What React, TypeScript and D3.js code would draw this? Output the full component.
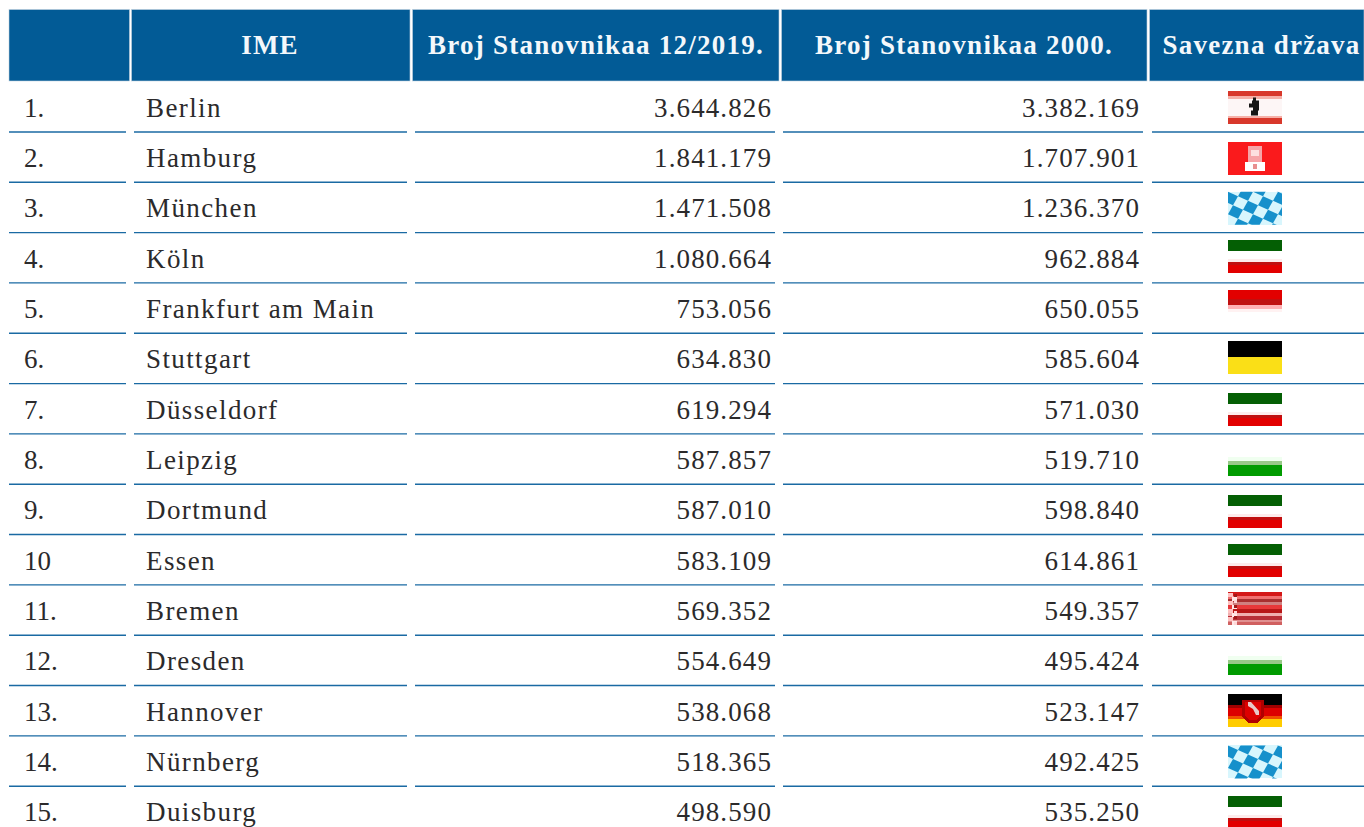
import * as React from "react"
import * as d3 from "d3"

const ranks = ["1.", "2.", "3.", "4.", "5.", "6.", "7.", "8.", "9.", "10", "11.", "12.", "13.", "14.", "15."]
const cities = ["Berlin", "Hamburg", "München", "Köln", "Frankfurt am Main", "Stuttgart", "Düsseldorf", "Leipzig", "Dortmund", "Essen", "Bremen", "Dresden", "Hannover", "Nürnberg", "Duisburg"]
const pop2019 = [3644826, 1841179, 1471508, 1080664, 753056, 634830, 619294, 587857, 587010, 583109, 569352, 554649, 538068, 518365, 498590]
const pop2000 = [3382169, 1707901, 1236370, 962884, 650055, 585604, 571030, 519710, 598840, 614861, 549357, 495424, 523147, 492425, 535250]
const states = ["berlin", "hamburg", "bayern", "nrw", "hessen", "bw", "nrw", "sachsen", "nrw", "nrw", "bremen", "sachsen", "niedersachsen", "bayern", "nrw"]
const headers = ["", "IME", "Broj Stanovnikaa 12/2019.", "Broj Stanovnikaa 2000.", "Savezna država"]

const width = 1364
const height = 827
const headerTop = 10
const headerBottom = 81
const rowHeight = 50.33
const blue = "#025b96"
const ruleBlue = "#1a6aa3"
const textColor = "#2b2a2b"
const font = "'Liberation Serif', serif"

const columns = [
  { left: 9, right: 129.5, ruleLeft: 9, ruleRight: 126, headerX: 69 },
  { left: 131.5, right: 410, ruleLeft: 134, ruleRight: 407, headerX: 270 },
  { left: 412.5, right: 779, ruleLeft: 415, ruleRight: 775, headerX: 596 },
  { left: 781.5, right: 1147, ruleLeft: 783, ruleRight: 1143, headerX: 964 },
  { left: 1149.5, right: 1364, ruleLeft: 1152, ruleRight: 1364, headerX: 1261.5 },
]

// flags sit slightly unevenly in the rows
const flagNudge = [9, 10, 9.5, 7.5, 7, 8, 9.5, 9.5, 10.5, 9.5, 7.5, 7, 8.5, 9.5, 9.5]
const flagW = 54
const flagH = 33

const bands: Record<string, [string, number][]> = {
  berlin: [["#d8382b", 5], ["#f6b0a8", 3], ["#fdf6f6", 17], ["#f6b0a8", 2], ["#d8382b", 6]],
  hamburg: [["#fa1a1c", 33]],
  nrw: [["#045f04", 11], ["#ffffff", 8], ["#fdecec", 3], ["#c01010", 3], ["#e20000", 8]],
  hessen: [["#e20000", 9], ["#c01010", 6], ["#ffb0b4", 4], ["#fff2f2", 3], ["#ffffff", 11]],
  bw: [["#000000", 16], ["#fadf17", 17]],
  sachsen: [["#ffffff", 14], ["#f0fff0", 4], ["#98c888", 4], ["#009b00", 11]],
  bremen: [["#d41818", 4], ["#f07070", 3], ["#a83030", 3], ["#d08080", 3], ["#e8383a", 4], ["#b81818", 4], ["#f0b0b0", 3], ["#b83038", 4], ["#e09090", 2], ["#d06060", 3]],
  niedersachsen: [["#000000", 11], ["#a00000", 3], ["#dd0000", 8], ["#f05000", 3], ["#ffcc00", 8]],
}

const formatPop = d3.formatLocale({ decimal: ",", thousands: ".", grouping: [3], currency: ["", ""] }).format(",d")

function Flag({ state, x, y, id }: { state: string; x: number; y: number; id: string }) {
  const stack = bands[state]
  const scale = d3.scaleLinear().domain([0, flagH]).range([0, flagH])
  let acc = 0
  const stripes = stack
    ? stack.map(([color, h], i) => {
        const r = <rect key={i} x={0} y={scale(acc)} width={flagW} height={scale(h)} fill={color} />
        acc += h
        return r
      })
    : null

  return (
    <g transform={`translate(${x},${y})`} shapeRendering="crispEdges">
      {stripes}
      {state === "bayern" && (
        <g>
          <clipPath id={id}>
            <rect width={flagW} height={flagH} />
          </clipPath>
          <rect width={flagW} height={flagH} fill="#d8f6fd" />
          <g clipPath={`url(#${id})`} shapeRendering="auto">
            <g filter="url(#flag-soft)">
              {d3.range(-2, 8).flatMap((a) =>
                d3.range(-4, 8).map((b) =>
                  (a + b) % 2 === 0 ? (
                    <path
                      key={`${a}-${b}`}
                      d="M0 0L10 4.5L5 13.5L-5 9Z"
                      fill="#1590cb"
                      transform={`translate(${a * 10 + b * -5},${a * 4.5 + b * 9})`}
                    />
                  ) : null
                )
              )}
            </g>
          </g>
        </g>
      )}
      {state === "hamburg" && (
        <g filter="url(#flag-soft)">
          <rect x={20} y={4} width={14} height={24} fill="#f6a5a8" />
          <rect x={23} y={8} width={8} height={6} fill="#fde0e0" />
          <rect x={17} y={20} width={20} height={9} fill="#ffffff" />
          <rect x={25} y={22} width={4} height={5} fill="#e89090" />
        </g>
      )}
      {state === "berlin" && (
        <path d="M25 7h3v3h3v10h-1v5h-7v-5h2v-3h-4v-4h3v-3h1z" fill="#151515" shapeRendering="auto" filter="url(#flag-soft)" />
      )}
      {state === "bremen" && (
        <g>
          {d3.range(0, 8).map((i) => (
            <rect key={i} x={i % 2 === 0 ? 0 : 4} y={i * 4 + 1} width={5} height={4} fill={i % 2 === 0 ? "#ffc0c0" : "#ffe8e8"} />
          ))}
          {d3.range(0, 6).map((i) => (
            <rect key={i} x={6} y={i * 5.5 + 2} width={3} height={3} fill={i % 2 === 0 ? "#a01818" : "#ffd8d8"} />
          ))}
        </g>
      )}
      {state === "niedersachsen" && (
        <g>
          <path d="M14 6h22v16l-7 7h-8l-7-7z" fill="#b00000" />
          <path d="M17 8h16v13l-5 5h-6l-5-5z" fill="#dd0000" />
          <path d="M20 8h3l8 9v4h-3l-3-6-5-3z" fill="#e8c8c8" shapeRendering="auto" />
        </g>
      )}
    </g>
  )
}

export default function App() {
  const rowTop = d3.scaleLinear().domain([0, 15]).range([81.6, 81.6 + rowHeight * 15])
  const baseline = (i: number) => rowTop(i) + 35.2

  return (
    <svg width={width} height={height} style={{ position: "absolute", left: 0, top: 0, background: "#fff" }}>
      <defs>
        <filter id="flag-soft" x="-10%" y="-10%" width="120%" height="120%">
          <feGaussianBlur stdDeviation={0.6} />
        </filter>
      </defs>
      {columns.map((c, i) => (
        <g key={i}>
          <rect x={c.left} y={headerTop - 0.5} width={c.right - c.left} height={headerBottom - headerTop + 0.5} fill={blue} stroke="#c3d3df" strokeWidth={0.6} />
          <text x={c.headerX} y={54} textAnchor="middle" fontFamily={font} fontWeight="bold" fontSize={27} letterSpacing={1.25} fill="#f4f8fb">
            {headers[i]}
          </text>
        </g>
      ))}
      {ranks.map((rank, i) => (
        <g key={rank}>
          {columns.map((c, j) => (
            <line key={j} x1={c.ruleLeft} x2={c.ruleRight} y1={rowTop(i + 1)} y2={rowTop(i + 1)} stroke={ruleBlue} strokeWidth={1.4} />
          ))}
          <g fontFamily={font} fontSize={27} fill={textColor}>
            <text x={24} y={baseline(i)}>{rank}</text>
            <text x={146} y={baseline(i)} letterSpacing={1.4}>{cities[i]}</text>
            <text x={772} y={baseline(i)} textAnchor="end" letterSpacing={1.1}>{formatPop(pop2019[i])}</text>
            <text x={1140} y={baseline(i)} textAnchor="end" letterSpacing={1.1}>{formatPop(pop2000[i])}</text>
          </g>
          <Flag state={states[i]} x={1228} y={rowTop(i) + flagNudge[i]} id={`flag-clip-${i}`} />
        </g>
      ))}
    </svg>
  )
}
